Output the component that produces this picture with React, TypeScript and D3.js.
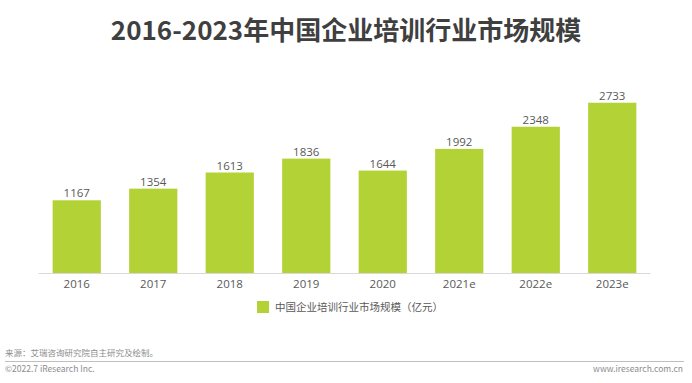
import React from "react";
import * as d3 from "d3";

const categories = ["2016", "2017", "2018", "2019", "2020", "2021e", "2022e", "2023e"];
const values = [1167, 1354, 1613, 1836, 1644, 1992, 2348, 2733];
const title = "2016-2023年中国企业培训行业市场规模";
const legendLabel = "中国企业培训行业市场规模（亿元）";
const sourceText = "来源：艾瑞咨询研究院自主研究及绘制。";
const copyrightText = "©2022.7 iResearch Inc.";
const siteText = "www.iresearch.com.cn";

const W = 692;
const H = 383;
const FONT = "'Noto Sans CJK SC', 'Noto Sans', sans-serif";
const NUMFONT = "'Open Sans', 'Noto Sans', sans-serif";
const BAR = "#b3d236";

export default function App() {
  const x = d3
    .scaleBand<string>()
    .domain(categories)
    .range([38.5, 650.5])
    .paddingInner(0.37)
    .paddingOuter(0.185);
  const y = d3.scaleLinear().domain([0, 3000]).range([273, 86.1]);

  return (
    <svg
      width={W}
      height={H}
      style={{ position: "absolute", left: 0, top: 0, background: "#fff" }}
      fontFamily={FONT}
    >
      <text x={346} y={40} textAnchor="middle" fontSize={26} fontWeight="bold" fill="#3f3f3f">
        {title}
      </text>
      {categories.map((c, i) => (
        <g key={c}>
          <rect
            x={x(c)}
            y={y(values[i])}
            width={x.bandwidth()}
            height={y(0) - y(values[i])}
            fill={BAR}
          />
          <text
            x={(x(c) as number) + x.bandwidth() / 2}
            y={y(values[i]) - 3}
            textAnchor="middle"
            fontSize={11.5}
            fontFamily={NUMFONT}
            fill="#595959"
          >
            {values[i]}
          </text>
          <text
            x={(x(c) as number) + x.bandwidth() / 2}
            y={287.5}
            textAnchor="middle"
            fontSize={11.5}
            fontFamily={NUMFONT}
            fill="#595959"
          >
            {c}
          </text>
        </g>
      ))}
      <line x1={38.5} x2={650.5} y1={273.5} y2={273.5} stroke="#d9d9d9" strokeWidth={1.2} />
      <rect x={257} y={301} width={12} height={12} fill={BAR} />
      <text x={275} y={311} fontSize={10.5} fill="#595959">
        {legendLabel}
      </text>
      <text x={5} y={356} fontSize={8.5} fill="#8c8c8c">
        {sourceText}
      </text>
      <line x1={5} x2={684} y1={361.5} y2={361.5} stroke="#bfbfbf" strokeWidth={1} />
      <text x={5} y={372} fontSize={8.5} fill="#8c8c8c">
        {copyrightText}
      </text>
      <text x={683} y={372} textAnchor="end" fontSize={8.5} fill="#8c8c8c">
        {siteText}
      </text>
    </svg>
  );
}
